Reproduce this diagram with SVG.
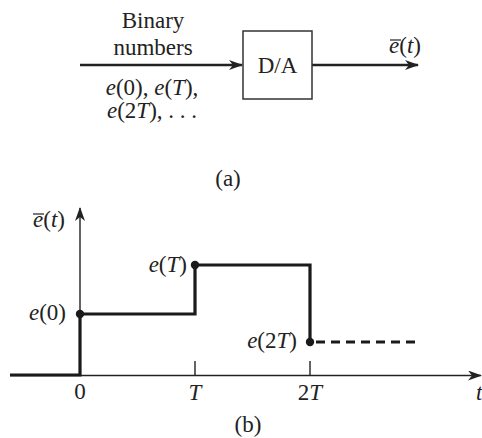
<svg xmlns="http://www.w3.org/2000/svg" width="482" height="438" viewBox="0 0 482 438">
<style>
text{font-family:"Liberation Serif","Times New Roman",serif;font-size:23px;fill:#222}
.i{font-style:italic}
.thin{stroke:#222;stroke-width:1.4;fill:none}
.arr{stroke:#222;stroke-width:2.6;fill:none}
.thick{stroke:#1a1a1a;stroke-width:3.2;fill:none}
.dot{fill:#1a1a1a}
</style>
<defs>
<marker id="ah" viewBox="0 0 14 10" refX="13" refY="5" markerWidth="14" markerHeight="10" markerUnits="userSpaceOnUse" orient="auto">
<path d="M0,0 L14,5 L0,10 L4,5 Z" fill="#222"/>
</marker>
</defs>
<g id="connectors">
<line class="arr" x1="80" y1="65" x2="242" y2="65" marker-end="url(#ah)"/>
<line class="arr" x1="312" y1="65" x2="418" y2="65" marker-end="url(#ah)"/>
</g>
<g id="input-label">
<text x="153" y="28" text-anchor="middle">Binary</text>
<text x="153" y="55" text-anchor="middle">numbers</text>
<text x="152" y="95" text-anchor="middle"><tspan class="i">e</tspan>(0), <tspan class="i">e</tspan>(<tspan class="i">T</tspan>),</text>
<text x="152" y="118" text-anchor="middle"><tspan class="i">e</tspan>(2<tspan class="i">T</tspan>), . . .</text>
</g>
<g id="da">
<rect x="243" y="31" width="69" height="68" fill="#fff" stroke="#333" stroke-width="1.5"/>
<text x="277.5" y="73" text-anchor="middle">D/A</text>
</g>
<g id="output-label">
<text x="389" y="53"><tspan class="i">e</tspan>(<tspan class="i">t</tspan>)</text>
<line x1="390" y1="40" x2="401" y2="40" stroke="#222" stroke-width="1.2"/>
</g>
<text x="228" y="186" text-anchor="middle">(a)</text>
<g id="plot">
<line class="thin" x1="10" y1="375.5" x2="481" y2="375.5" marker-end="url(#ah)"/>
<line class="thin" x1="80" y1="375" x2="80" y2="208" marker-end="url(#ah)"/>
<line class="thin" x1="195" y1="361" x2="195" y2="375"/>
<line class="thin" x1="310" y1="361" x2="310" y2="375"/>
<polyline class="thick" points="10,375 80,375 80,314 195,314 195,265 310,265 310,342"/>
<line class="thick" x1="316" y1="342" x2="416" y2="342" stroke-dasharray="9,6"/>
<circle class="dot" cx="80" cy="314" r="4.2"/>
<circle class="dot" cx="195" cy="265" r="4.2"/>
<circle class="dot" cx="310" cy="342" r="4.2"/>
<text x="65" y="227" text-anchor="end"><tspan class="i">e</tspan>(<tspan class="i">t</tspan>)</text>
<line x1="33" y1="214" x2="44" y2="214" stroke="#222" stroke-width="1.2"/>
<text x="66" y="320" text-anchor="end"><tspan class="i">e</tspan>(0)</text>
<text x="187" y="272" text-anchor="end"><tspan class="i">e</tspan>(<tspan class="i">T</tspan>)</text>
<text x="297" y="348" text-anchor="end"><tspan class="i">e</tspan>(2<tspan class="i">T</tspan>)</text>
<text x="80" y="399" text-anchor="middle">0</text>
<text x="195" y="400" text-anchor="middle" class="i">T</text>
<text x="310" y="400" text-anchor="middle">2<tspan class="i">T</tspan></text>
<text x="476" y="400" class="i">t</text>
<text x="248" y="432" text-anchor="middle">(b)</text>
</g>
</svg>
